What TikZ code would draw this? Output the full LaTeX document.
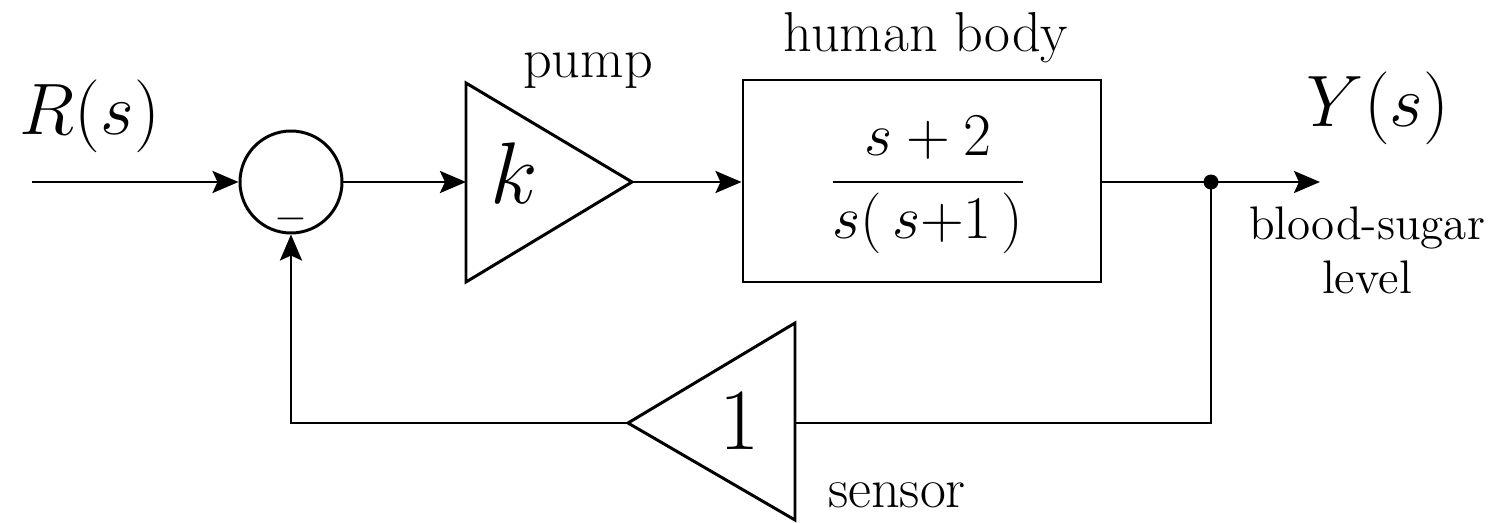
\documentclass[tikz,border=0pt]{standalone}
\usepackage{amsmath}
\usepackage{amssymb}
\usepackage{tikz}
\usetikzlibrary{
	arrows.meta,
	positioning,
	calc
}

\begin{document}
\begin{tikzpicture}[
		>={Stealth[length=2.6mm,width=2.2mm,inset=0.5mm]},
		line width=0.85pt,
		lbl/.style={font=\fontsize{16}{19}\selectfont, anchor=base, inner sep=0pt},
		smalllbl/.style={font=\fontsize{13.4}{15}\selectfont, anchor=base, inner sep=0pt},
		sig/.style={font=\fontsize{20}{24}\selectfont, anchor=base, inner sep=0pt},
		gainlbl/.style={font=\fontsize{25}{29}\selectfont, anchor=base, inner sep=0pt},
		block/.style={draw, minimum width=3.58cm, minimum height=2.02cm, inner sep=0pt}
	]
		\useasboundingbox (0,0) rectangle (14.94,5.22);
		
		% summing point
		\node[draw, circle, minimum size=1.02cm, inner sep=0pt] (sum) at (2.91,3.40) {};
		\node[font=\fontsize{13}{15}\selectfont, inner sep=0pt] (minus) at (2.91,3.03) {$-$};
		
		% pump
		\draw (4.66,4.39) -- (6.32,3.40) coordinate (pumpout) -- (4.66,2.40) -- cycle;
		\coordinate (pumpin) at (4.66,3.40);
		\node[gainlbl] (k) at (5.14,3.19) {$k$};
		\node[lbl] (pumplbl) at (5.88,4.45) {pump};
		
		% plant
		\node[block] (body) at (9.22,3.41) {};
		\node[anchor=base, inner sep=0pt, font=\fontsize{17.1}{20}\selectfont] (tf) at (9.28,3.25)
		{$\dfrac{s+2}{s(\,s{+}1\,)}$};
		\node[lbl] (bodylbl) at (9.26,4.70) {human body};
		
		% sensor
		\draw (7.95,1.99) -- (7.95,0.02) -- (6.28,0.99) coordinate (sensorout) -- cycle;
		\coordinate (sensorin) at (7.95,0.99);
		\node[gainlbl] (one) at (7.40,0.72) {$1$};
		\node[lbl] (sensorlbl) at (8.97,0.15) {sensor};
		
		% signals
		\coordinate (in) at (0.32,3.40);
		\coordinate (branch) at (12.11,3.40);
		\coordinate (out) at (13.20,3.40);
		\coordinate (fbdown) at (12.11,0.99);
		\node[sig] (R) at (0.90,3.87) {$R(s)$};
		\node[sig] (Y) at (13.78,3.95) {$Y(s)$};
		\node[smalllbl] (bloodlbl) at (13.67,2.82) {blood-sugar};
		\node[smalllbl] (levellbl) at (13.67,2.29) {level};
		
		\draw[->] (in) -- (sum.west);
		\draw[->] (sum.east) -- (pumpin);
		\draw[->] (pumpout) -- (pumpout -| body.west);
		\draw[->] (body.east |- branch) -- (out);
		\fill (branch) circle (0.075);
		\draw (branch) -- (fbdown) -- (sensorin);
		\draw[->] (sensorout) -| (sum.south);
		
	\end{tikzpicture}
\end{document}
